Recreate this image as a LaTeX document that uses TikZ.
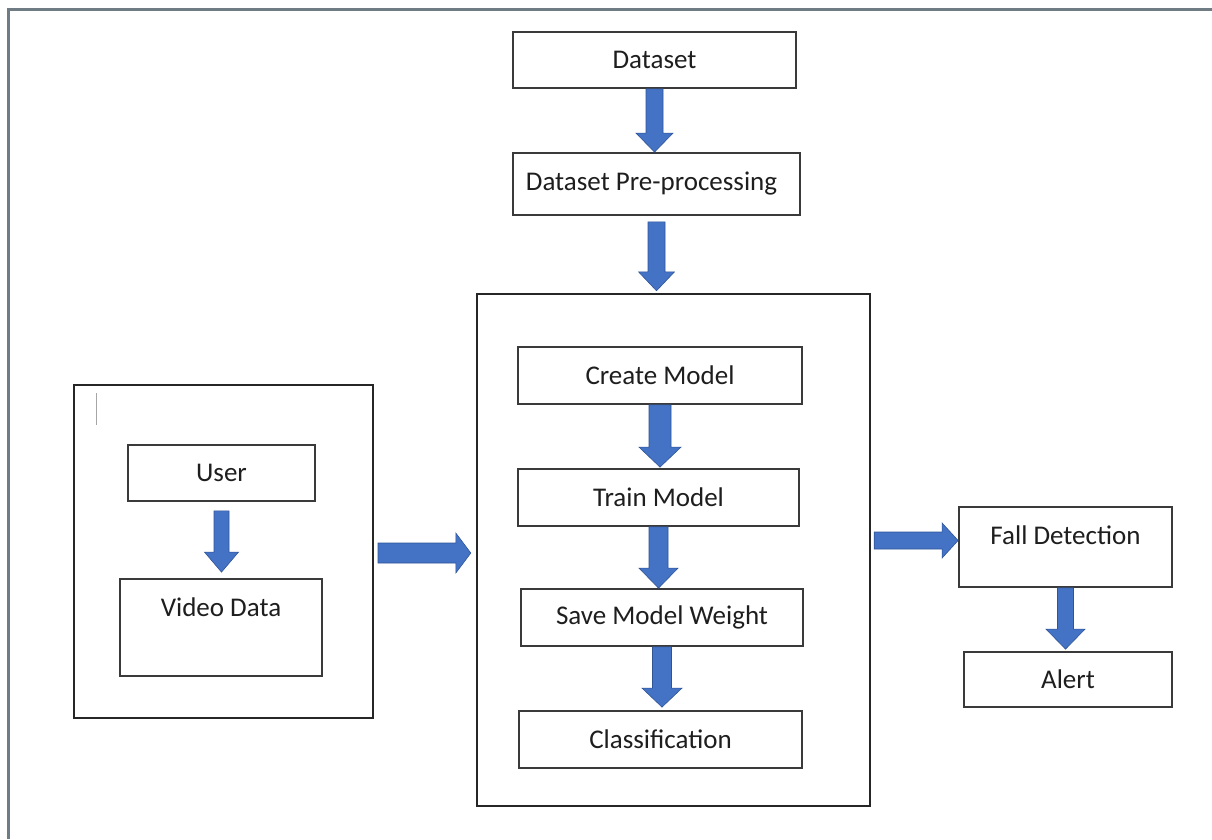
\documentclass[tikz,border=0pt]{standalone}
\usepackage{fontspec}
\setmainfont{Carlito}
\usetikzlibrary{calc}
\definecolor{arrowblue}{HTML}{4472C4}
\definecolor{arrowedge}{HTML}{2F5597}
\definecolor{framegray}{HTML}{6F7C84}
\definecolor{boxline}{HTML}{3A3A3A}
\definecolor{txt}{HTML}{1E1E1E}
\tikzset{
  box/.style={draw=boxline, line width=1.8pt, fill=white, inner sep=0pt,
    font=\fontsize{27}{32}\selectfont, text=txt},
  bigframe/.style={draw=black!85, line width=2.4pt, inner sep=0pt},
  barrow/.style={fill=arrowblue, draw=arrowedge, line width=0.6pt, line join=miter},
  lbl/.style={font=\fontsize{27}{32}\selectfont, text=txt, inner sep=0pt}
}
% vertical block arrow: from, to, shaft half width, head half width, head length, start gap, end gap
\newcommand{\vblock}[7]{%
  \path[barrow] ($(#1.south)+(-#3,#6)$) -- ($(#1.south)+(#3,#6)$)
    -- ($(#1.south|-#2.north)+(#3,-#5-#7)$) -- ($(#1.south|-#2.north)+(#4,-#5-#7)$)
    -- ($(#1.south|-#2.north)+(0,-#7)$)
    -- ($(#1.south|-#2.north)+(-#4,-#5-#7)$) -- ($(#1.south|-#2.north)+(-#3,-#5-#7)$) -- cycle;}
% horizontal block arrow: from, to, shaft half width, head half width, head length, start gap, end gap, level coordinate
\newcommand{\hblock}[8]{%
  \path[barrow] ($(#1.east|-#8)+(#6,-#3)$) -- ($(#2.west|-#8)+(-#5-#7,-#3)$)
    -- ($(#2.west|-#8)+(-#5-#7,-#4)$) -- ($(#2.west|-#8)+(-#7,0)$)
    -- ($(#2.west|-#8)+(-#5-#7,#4)$) -- ($(#2.west|-#8)+(-#5-#7,#3)$)
    -- ($(#1.east|-#8)+(#6,#3)$) -- cycle;}
\begin{document}
\begin{tikzpicture}[x=1pt,y=-1pt]
\useasboundingbox (0,0) rectangle (1212,839);
\fill[white] (0,0) rectangle (1212,839);
% outer frame
\draw[framegray, line width=3pt] (8,839) -- (8,9) -- (1212,9);

% top chain
\node[box, minimum width=283pt, minimum height=56pt] (dataset) at (654.5,60) {Dataset};
\node[box, minimum width=287pt, minimum height=62pt] (prep) at (656.5,184) {\hspace*{-10pt}Dataset Pre-processing};

% central box
\node[bigframe, minimum width=393pt, minimum height=512pt] (bigbox) at (673.5,550) {};
\node[box, minimum width=284pt, minimum height=57pt] (create) at (660,375.5) {Create Model};
\node[box, minimum width=281pt, minimum height=57pt] (train) at (658.5,497.5) {Train Model};
\node[box, minimum width=282pt, minimum height=57pt] (save) at (662,617.5) {Save Model Weight};
\node[box, minimum width=283pt, minimum height=57pt] (classif) at (660.5,739.5) {Classification};

% left box
\node[bigframe, line width=2pt, minimum width=299pt, minimum height=333pt] (leftbox) at (223.5,551.5) {};
\draw[gray!70, line width=0.8pt] (96,393) -- (96,425);
\node[box, minimum width=187pt, minimum height=56pt] (user) at (221.5,473) {User};
\node[box, minimum width=202pt, minimum height=97pt,
  label={[lbl, yshift=20.5pt]center:Video Data}] (video) at (221,627.5) {};

% right side
\node[box, minimum width=213pt, minimum height=80pt,
  label={[lbl, yshift=12pt]center:Fall Detection}] (fall) at (1065.5,547) {};
\node[box, minimum width=208pt, minimum height=55pt] (alert) at (1068,679.5) {Alert};

% level coordinates for horizontal arrows
\coordinate (lvlA) at (0,553);
\coordinate (lvlB) at (0,540.5);

% arrows
\vblock{dataset}{prep}{8.5}{18.5}{19}{0}{0}
\vblock{prep}{bigbox}{8.5}{18}{19}{6}{2}
\vblock{create}{train}{11}{21}{20}{0}{1}
\vblock{train}{save}{9.5}{19.5}{20}{0}{0}
\vblock{save}{classif}{9.5}{20}{19}{0}{3}
\vblock{user}{video}{7.5}{17}{20}{9}{6}
\vblock{fall}{alert}{8}{19.5}{20}{0}{2}
\hblock{leftbox}{bigbox}{10}{20}{15}{4}{5}{lvlA}
\hblock{bigbox}{fall}{8.5}{17.5}{16}{3}{0}{lvlB}
\end{tikzpicture}
\end{document}
